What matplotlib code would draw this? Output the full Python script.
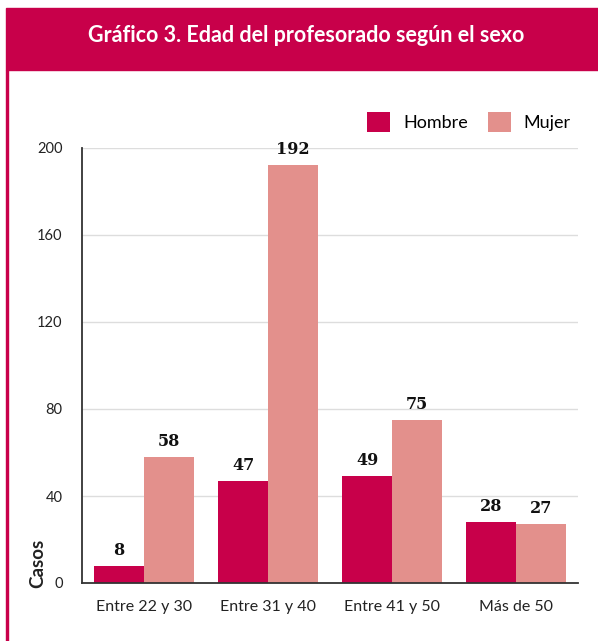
import matplotlib
matplotlib.use("Agg")
import matplotlib.pyplot as plt
import numpy as np
from matplotlib.patches import Rectangle

categories = ["Entre 22 y 30", "Entre 31 y 40", "Entre 41 y 50", "Más de 50"]
hombre = [8, 47, 49, 28]
mujer = [58, 192, 75, 27]
series_names = ["Hombre", "Mujer"]
yticks = [0, 40, 80, 120, 160, 200]
title = "Gráfico 3. Edad del profesorado según el sexo"
ylabel = "Casos"

C_H = "#C8004A"
C_M = "#E3908C"
C_HEAD = "#C8004A"

plt.rcParams['font.family'] = ['Lato', 'DejaVu Sans']

W, H = 598, 641
fig = plt.figure(figsize=(W / 100, H / 100), dpi=100)

# header band and left border
fig.patches.append(Rectangle((6 / W, 1 - 70 / H), 1, 62 / H, transform=fig.transFigure,
                             color=C_HEAD, zorder=0))
fig.patches.append(Rectangle((6 / W, 0), 2 / W, 1 - 70 / H, transform=fig.transFigure,
                             color=C_HEAD, zorder=0))
fig.text(306 / W, 1 - 35 / H, title, color="white", fontsize=15.5, fontweight="bold",
         ha="center", va="center")

ax = fig.add_axes([82 / W, 58 / H, 496 / W, 435 / H])
x = np.arange(len(categories))
bw = 0.403
b1 = ax.bar(x - bw / 2, hombre, bw, color=C_H, label=series_names[0], zorder=2)
b2 = ax.bar(x + bw / 2, mujer, bw, color=C_M, label=series_names[1], zorder=2)

for bars, vals in ((b1, hombre), (b2, mujer)):
    for r, v in zip(bars, vals):
        ax.annotate(str(v), (r.get_x() + r.get_width() / 2, v), xytext=(0, 5),
                    textcoords="offset points", ha="center", va="bottom",
                    fontsize=11.5, fontweight="bold", family="DejaVu Serif",
                    color="#111111", zorder=4, annotation_clip=False)

ax.set_xlim(-0.5, 3.5)
ax.set_ylim(0, 200)
ax.set_yticks(yticks)
ax.set_xticks(x)
ax.set_xticklabels(categories, fontsize=11.5, color="#222222")
ax.tick_params(axis="y", labelsize=10.5, colors="#222222", length=0, pad=14)
ax.tick_params(axis="x", length=0, pad=12)
ax.grid(axis="y", color="#DDDDDD", linewidth=1, zorder=0)
ax.set_axisbelow(True)
for s in ["top", "right"]:
    ax.spines[s].set_visible(False)
ax.spines["left"].set_color("#333333")
ax.spines["bottom"].set_color("#333333")
ax.spines["left"].set_linewidth(1.3)
ax.spines["bottom"].set_linewidth(1.3)

fig.text(38 / W, 1 - 563 / H, ylabel, rotation=90, fontsize=13.5, fontweight="bold",
         ha="center", va="center", color="#222222")

leg = ax.legend(loc="lower right", bbox_to_anchor=(1.0, 1.02), ncol=2, frameon=False,
                fontsize=13, handlelength=1.3, handleheight=1.3, columnspacing=1.1,
                handletextpad=0.7, borderaxespad=0)

fig.savefig("out.png", dpi=100)
